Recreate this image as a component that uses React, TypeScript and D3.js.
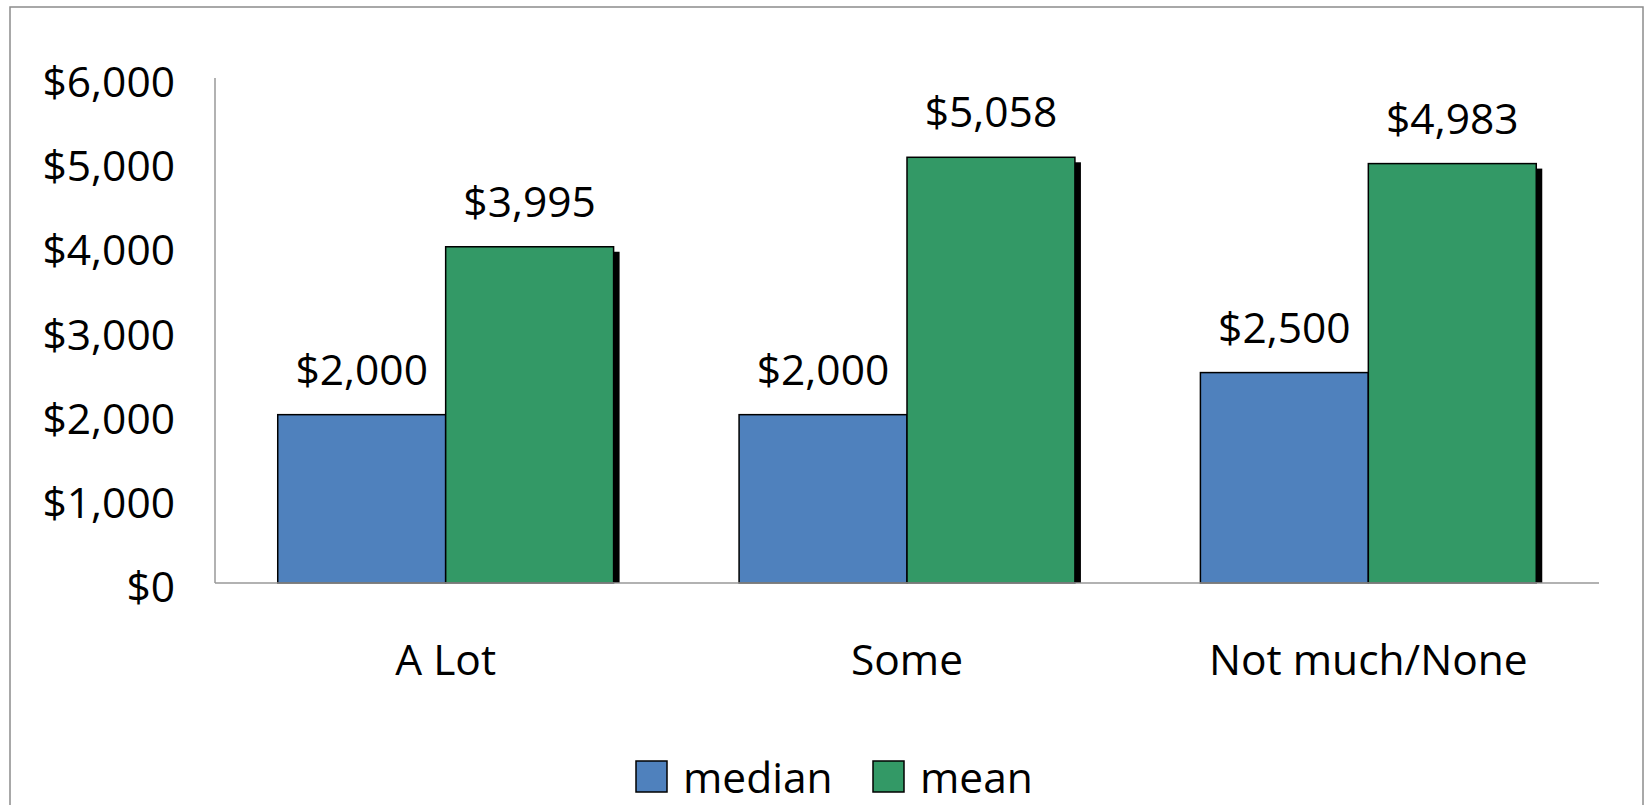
import React from "react";
import * as d3 from "d3";

const categories = ["A Lot", "Some", "Not much/None"];
const seriesNames = ["median", "mean"];
const medianValues = [2000, 2000, 2500];
const meanValues = [3995, 5058, 4983];
const yTicks = [0, 1000, 2000, 3000, 4000, 5000, 6000];
const colors = ["#4F81BD", "#339966"];

const W = 1645;
const H = 805;
const FONT = "'Open Sans', 'DejaVu Sans', sans-serif";
const FS = 42.5;

export default function App() {
  const left = 215;
  const right = 1599;
  const top = 78;
  const bottom = 583;

  const y = d3.scaleLinear().domain([0, 6000]).range([bottom, top]);
  const x0 = d3
    .scaleBand<string>()
    .domain(categories)
    .range([left, right])
    .paddingInner(0.272)
    .paddingOuter(0.136);
  const x1 = d3
    .scaleBand<string>()
    .domain(seriesNames)
    .range([0, x0.bandwidth()])
    .padding(0);

  const seriesData = [medianValues, meanValues];
  const fmt = (v: number) => "$" + d3.format(",")(v);

  const shadowDx = 6;
  const shadowDy = 5;

  return (
    <svg
      width={W}
      height={H}
      style={{ position: "absolute", left: 0, top: 0, background: "#fff" }}
      fontFamily={FONT}
    >
      <defs>
        <clipPath id="plotClip">
          <rect x={0} y={0} width={W} height={bottom} />
        </clipPath>
      </defs>
      <rect x={10} y={7} width={1633} height={820} fill="#fff" stroke="#8c8c8c" strokeWidth={1.5} />

      {/* y ticks */}
      {yTicks.map((t) => (
        <text key={t} x={175} y={y(t) + 19} textAnchor="end" fontSize={FS} fill="#000">
          {fmt(t)}
        </text>
      ))}

      {/* shadows */}
      <g clipPath="url(#plotClip)">
        {categories.map((c, i) =>
          seriesNames.map((s, j) => {
            const v = seriesData[j][i];
            const bx = (x0(c) as number) + (x1(s) as number);
            return (
              <rect
                key={`sh-${c}-${s}`}
                x={bx + shadowDx}
                y={y(v) + shadowDy}
                width={x1.bandwidth()}
                height={bottom - y(v)}
                fill="#000"
              />
            );
          })
        )}
      </g>

      {/* bars */}
      {categories.map((c, i) =>
        seriesNames.map((s, j) => {
          const v = seriesData[j][i];
          const bx = (x0(c) as number) + (x1(s) as number);
          return (
            <rect
              key={`b-${c}-${s}`}
              x={bx}
              y={y(v)}
              width={x1.bandwidth()}
              height={bottom - y(v)}
              fill={colors[j]}
              stroke="#000"
              strokeWidth={1.5}
            />
          );
        })
      )}

      {/* axes */}
      <line x1={left} x2={left} y1={top} y2={bottom} stroke="#999" strokeWidth={1.5} />
      <line x1={left} x2={right} y1={bottom} y2={bottom} stroke="#999" strokeWidth={1.5} />

      {/* value labels */}
      {categories.map((c, i) =>
        seriesNames.map((s, j) => {
          const v = seriesData[j][i];
          const cx = (x0(c) as number) + (x1(s) as number) + x1.bandwidth() / 2;
          return (
            <text key={`l-${c}-${s}`} x={cx} y={y(v) - 30} textAnchor="middle" fontSize={FS} fill="#000">
              {fmt(v)}
            </text>
          );
        })
      )}

      {/* category labels */}
      {categories.map((c) => (
        <text
          key={`c-${c}`}
          x={(x0(c) as number) + x0.bandwidth() / 2}
          y={675}
          textAnchor="middle"
          fontSize={FS}
          fill="#000"
        >
          {c}
        </text>
      ))}

      {/* legend */}
      {seriesNames.map((s, j) => {
        const lx = [636, 873][j];
        return (
          <g key={`lg-${s}`}>
            <rect x={lx} y={761} width={31} height={31} fill={colors[j]} stroke="#000" strokeWidth={1.5} />
            <text x={lx + 47} y={793} fontSize={FS} fill="#000">
              {s}
            </text>
          </g>
        );
      })}
    </svg>
  );
}
